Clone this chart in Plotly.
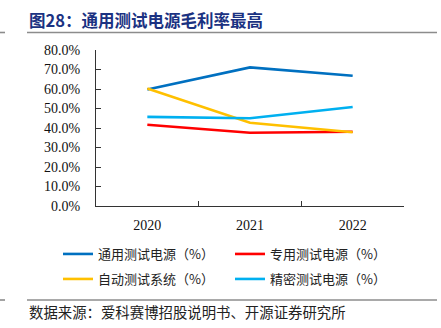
import plotly.graph_objects as go

# Gross margin by product line, 2020-2022
years = ["2020", "2021", "2022"]
general_power = [0.597, 0.711, 0.668]      # 通用测试电源
special_power = [0.417, 0.376, 0.381]      # 专用测试电源
auto_test_sys = [0.603, 0.427, 0.378]      # 自动测试系统
precision_power = [0.457, 0.450, 0.508]    # 精密测试电源

series_names = ["通用测试电源（%）", "专用测试电源（%）", "自动测试系统（%）", "精密测试电源（%）"]
series_values = [general_power, special_power, auto_test_sys, precision_power]
series_colors = ["#0070C0", "#FF0000", "#FFC000", "#00B0F0"]
legend_rows = ["legend", "legend", "legend2", "legend2"]

y_ticks = [0, 0.1, 0.2, 0.3, 0.4, 0.5, 0.6, 0.7, 0.8]

W, H = 441, 328
L, R, T, B = 96, 37, 50, 122
PW, PH = W - L - R, H - T - B

fig = go.Figure()
for name, vals, col, lg in zip(series_names, series_values, series_colors, legend_rows):
    fig.add_trace(go.Scatter(x=years, y=vals, mode="lines", name=name, legend=lg,
                             line=dict(color=col, width=2.6)))

serif = "Liberation Serif, Times New Roman, serif"
cjk = "Noto Sans CJK SC, sans-serif"


def legend_row(y_center):
    # one horizontal legend row centred at a pixel height
    return dict(orientation="h", x=(58 - L) / PW, xanchor="left",
                y=-(y_center - (H - B)) / PH, yanchor="middle",
                font=dict(family=cjk, size=13, color="#222"),
                entrywidth=127, entrywidthmode="pixels",
                itemwidth=30, bgcolor="rgba(0,0,0,0)")


fig.update_layout(
    width=W, height=H,
    margin=dict(l=L, r=R, t=T, b=B, autoexpand=False),
    paper_bgcolor="white", plot_bgcolor="white",
    showlegend=True,
    legend=legend_row(254),
    legend2=legend_row(279),
    xaxis=dict(type="category", range=[-0.5, 2.5], showgrid=False,
               showline=True, linecolor="#333", linewidth=1,
               ticks="inside", tickson="boundaries", ticklen=5, tickcolor="#333",
               ticklabelstandoff=6,
               tickfont=dict(family=serif, size=14, color="#111")),
    yaxis=dict(range=[0, 0.8], tickvals=y_ticks, tickformat=".1%", showgrid=False,
               showline=True, linecolor="#333", linewidth=1,
               ticks="inside", ticklen=5, tickcolor="#333", zeroline=False,
               ticklabelstandoff=12,
               tickfont=dict(family=serif, size=14, color="#111")),
)

# Title and source note
fig.add_annotation(text="<b>图28：通用测试电源毛利率最高</b>", xref="paper", yref="paper",
                   x=(27 - L) / PW, y=1 + (T - 20) / PH,
                   xanchor="left", yanchor="middle", showarrow=False,
                   font=dict(family=cjk, size=16.5, color="#1B3282"))
fig.add_annotation(text="数据来源：爱科赛博招股说明书、开源证券研究所", xref="paper", yref="paper",
                   x=(27 - L) / PW, y=-(311 - (H - B)) / PH,
                   xanchor="left", yanchor="middle", showarrow=False,
                   font=dict(family=cjk, size=14.4, color="#222"))


def hline(x0, x1, y):
    # horizontal rule in pixel coordinates
    fig.add_shape(type="line", xref="paper", yref="paper",
                  x0=(x0 - L) / PW, x1=(x1 - L) / PW,
                  y0=(H - B - y) / PH, y1=(H - B - y) / PH,
                  line=dict(color="#8c8c8c", width=1.6))


hline(27, 437, 32.5)
hline(0, 5, 32.5)
hline(27, 437, 300)
hline(0, 5, 300)

fig.write_html("out.html")
